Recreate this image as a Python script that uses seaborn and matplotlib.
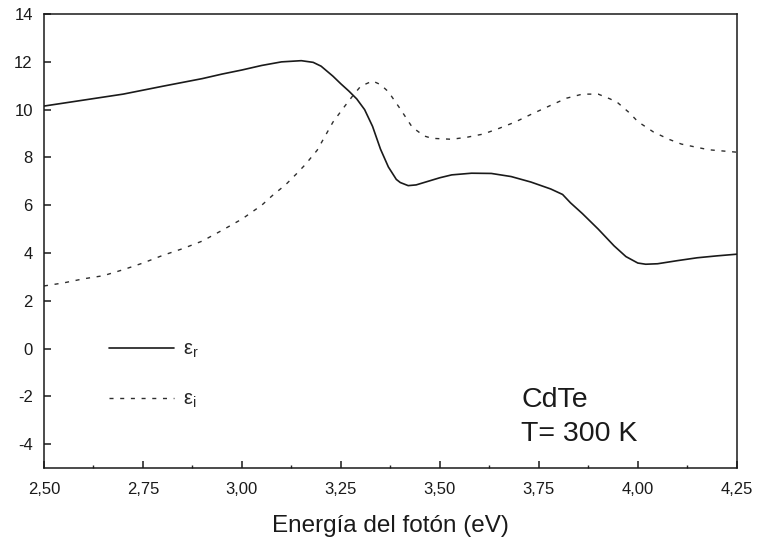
import matplotlib
matplotlib.use("Agg")
import matplotlib.pyplot as plt
from matplotlib.ticker import FixedLocator, MultipleLocator
import seaborn as sns
import pandas as pd

# Photon energy (eV) and real part of the dielectric function
energy_r = [2.50, 2.60, 2.70, 2.80, 2.90, 2.95, 3.00, 3.05, 3.10, 3.15, 3.18,
            3.20, 3.23, 3.25, 3.27, 3.29, 3.31, 3.33, 3.35, 3.37, 3.39, 3.40,
            3.42, 3.44, 3.47, 3.50, 3.53, 3.58, 3.63, 3.68, 3.73, 3.78, 3.81,
            3.83, 3.86, 3.90, 3.94, 3.97, 4.00, 4.02, 4.05, 4.10, 4.15, 4.20,
            4.25]
eps_r = [10.15, 10.40, 10.65, 10.98, 11.30, 11.49, 11.66, 11.85, 12.00, 12.05,
         11.98, 11.82, 11.40, 11.08, 10.78, 10.45, 10.00, 9.30, 8.35, 7.60,
         7.08, 6.95, 6.82, 6.85, 7.00, 7.15, 7.27, 7.34, 7.33, 7.20, 6.97, 6.68,
         6.45, 6.10, 5.65, 5.00, 4.30, 3.85, 3.58, 3.53, 3.55, 3.68, 3.80, 3.88,
         3.95]

# Photon energy (eV) and imaginary part of the dielectric function
energy_i = [2.50, 2.55, 2.60, 2.65, 2.70, 2.75, 2.80, 2.85, 2.90, 2.95, 3.00,
            3.05, 3.08, 3.11, 3.14, 3.16, 3.19, 3.23, 3.26, 3.28, 3.30, 3.33,
            3.35, 3.37, 3.40, 3.43, 3.46, 3.48, 3.53, 3.57, 3.61, 3.65, 3.69,
            3.73, 3.78, 3.82, 3.86, 3.90, 3.93, 3.95, 3.98, 4.00, 4.04, 4.08,
            4.11, 4.15, 4.18, 4.25]
eps_i = [2.62, 2.75, 2.92, 3.05, 3.30, 3.58, 3.90, 4.18, 4.50, 4.95, 5.42,
         6.00, 6.45, 6.85, 7.35, 7.70, 8.30, 9.48, 10.15, 10.58, 10.98, 11.20,
         11.05, 10.75, 10.03, 9.27, 8.90, 8.80, 8.76, 8.85, 8.98, 9.22, 9.48,
         9.80, 10.18, 10.48, 10.65, 10.65, 10.45, 10.28, 9.85, 9.50, 9.06, 8.75,
         8.56, 8.42, 8.32, 8.22]

xticks = [2.50, 2.75, 3.00, 3.25, 3.50, 3.75, 4.00, 4.25]
xtick_labels = ["2,50", "2,75", "3,00", "3,25", "3,50", "3,75", "4,00", "4,25"]
yticks = [-4, -2, 0, 2, 4, 6, 8, 10, 12, 14]

sns.set_style("ticks")
plt.rcParams["font.family"] = ["Liberation Sans", "DejaVu Sans"]
plt.rcParams["mathtext.fontset"] = "custom"
plt.rcParams["mathtext.rm"] = "Liberation Sans"
plt.rcParams["mathtext.it"] = "Liberation Sans"
plt.rcParams["axes.unicode_minus"] = False

ink = "#1a1a1a"

df_r = pd.DataFrame({"E": energy_r, "eps": eps_r})
df_i = pd.DataFrame({"E": energy_i, "eps": eps_i})

fig = plt.figure(figsize=(7.58, 5.42), dpi=100)
ax = fig.add_axes([0.058, 0.1365, 0.914, 0.8375])

sns.lineplot(data=df_r, x="E", y="eps", ax=ax, color=ink, lw=1.2,
             label="ε$_\\mathregular{r}$")
sns.lineplot(data=df_i, x="E", y="eps", ax=ax, color="#2e2e2e", lw=1.0,
             label="ε$_\\mathregular{i}$")
ax.lines[1].set_dashes((2.9, 4.8))

ax.set_xlim(2.50, 4.25)
ax.set_ylim(-5, 14)
ax.xaxis.set_major_locator(FixedLocator(xticks))
ax.set_xticklabels(xtick_labels)
ax.xaxis.set_minor_locator(MultipleLocator(0.125))
ax.yaxis.set_major_locator(FixedLocator(yticks))

ax.tick_params(axis="both", which="major", direction="in", length=5,
               width=1.1, labelsize=12, colors=ink)
ax.tick_params(axis="x", which="major", pad=10)
ax.tick_params(axis="y", which="major", pad=8)
ax.tick_params(axis="x", which="minor", direction="in", length=2.5, width=1.0)
ax.tick_params(axis="y", which="minor", left=False)

for side in ["left", "right", "top", "bottom"]:
    ax.spines[side].set_visible(True)
    ax.spines[side].set_linewidth(1.1)
    ax.spines[side].set_color(ink)

ax.set_xlabel("Energía del fotón (eV)", fontsize=17.5, color=ink, labelpad=13)
ax.set_ylabel("")

ax.legend(loc="lower left", bbox_to_anchor=(0.068, 0.088), frameon=False,
          handlelength=3.2, handletextpad=0.45, labelspacing=1.45,
          fontsize=14.5)

ax.text(3.705, -2.15, "CdTe", fontsize=20.5, va="center", ha="left", color=ink)
ax.text(3.705, -3.58, "T= 300 K", fontsize=20.5, va="center", ha="left", color=ink)

fig.savefig("out.png", dpi=100)
